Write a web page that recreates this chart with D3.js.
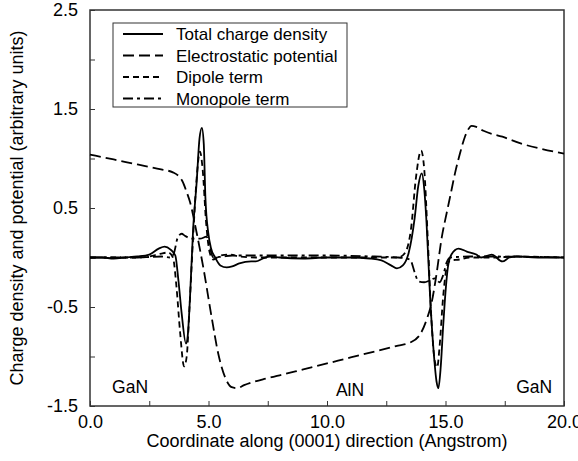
<html>
<head>
<script src="https://d3js.org/d3.v7.min.js"></script>
<style type="text/css">
body {
	margin: 0;
	background: #fff;
	font-family: "Liberation Sans", Arial, Helvetica, sans-serif;
}
.axis text {
	font: 18px "Liberation Sans", Arial, sans-serif;
	fill: #000;
}
</style>
<script>
// series names for the legend
var seriesNames = ['Total charge density', 'Electrostatic potential', 'Dipole term', 'Monopole term'];

// total charge density (solid)
var totalX = [0, 0.5, 1.0, 1.5, 2.0, 2.5, 2.9, 3.15, 3.4, 3.6, 3.73, 3.87, 4.05, 4.12, 4.22, 4.35, 4.5, 4.62, 4.72, 4.8, 4.87, 4.99, 5.1, 5.28, 5.5, 5.77, 6.0, 6.3, 6.8, 7.0, 7.3, 7.6, 8.0, 9.0, 10.0, 11.0, 11.8, 12.3, 12.7, 12.95, 13.2, 13.45, 13.7, 13.85, 14.0, 14.1, 14.2, 14.35, 14.5, 14.62, 14.7, 14.8, 14.9, 15.0, 15.1, 15.25, 15.55, 15.9, 16.3, 16.5, 16.95, 17.4, 17.7, 18.0, 19.0, 20.0];
var totalY = [0.00, 0.00, -0.01, 0.00, 0.01, 0.03, 0.09, 0.11, 0.08, 0.02, -0.23, -0.57, -0.87, -0.80, -0.40, 0.28, 0.76, 1.20, 1.31, 1.15, 0.60, 0.25, 0.10, 0.00, -0.08, -0.10, -0.09, -0.06, -0.04, -0.04, -0.01, 0.01, 0.00, -0.01, 0.00, 0.00, -0.01, -0.03, -0.08, -0.11, -0.08, 0.05, 0.40, 0.72, 0.85, 0.70, 0.35, -0.40, -0.95, -1.25, -1.32, -1.10, -0.70, -0.35, -0.10, 0.03, 0.09, 0.06, 0.03, 0.00, 0.03, -0.04, 0.00, 0.01, 0.00, 0.00];

// electrostatic potential (long dash)
var potX = [0, 1, 2, 3, 3.5, 3.75, 3.9, 4.08, 4.22, 4.5, 4.78, 5.13, 5.41, 5.7, 5.98, 6.2, 6.5, 7.3, 8, 9, 10, 11, 12, 13, 13.5, 13.92, 14.2, 14.42, 14.6, 14.84, 15.05, 15.2, 15.4, 15.61, 15.82, 15.95, 16.1, 16.3, 16.6, 17.4, 18.2, 19, 20];
var potY = [1.04, 0.99, 0.94, 0.89, 0.86, 0.82, 0.77, 0.66, 0.56, 0.25, -0.10, -0.60, -0.97, -1.21, -1.31, -1.32, -1.29, -1.23, -1.19, -1.13, -1.07, -1.01, -0.95, -0.89, -0.86, -0.78, -0.63, -0.45, -0.20, 0.20, 0.45, 0.62, 0.85, 1.05, 1.22, 1.29, 1.33, 1.32, 1.28, 1.22, 1.15, 1.10, 1.05];

// dipole term (short dash)
var dipX = [0, 1, 2, 2.5, 3.0, 3.3, 3.5, 3.65, 3.8, 3.97, 4.08, 4.2, 4.35, 4.5, 4.64, 4.75, 4.9, 5.05, 5.2, 5.5, 5.9, 6.3, 7, 8, 10, 12, 13.0, 13.3, 13.55, 13.75, 13.97, 14.1, 14.25, 14.4, 14.55, 14.65, 14.75, 14.9, 15.05, 15.2, 15.6, 16, 17, 18, 20];
var dipY = [0.00, 0.00, 0.00, 0.01, 0.04, 0.05, 0.00, -0.30, -0.75, -1.10, -1.00, -0.50, 0.20, 0.80, 1.07, 0.90, 0.35, 0.05, -0.02, 0.02, 0.03, 0.01, 0.00, 0.00, 0.00, 0.00, 0.00, 0.05, 0.30, 0.80, 1.08, 0.90, 0.20, -0.60, -1.05, -1.11, -0.90, -0.40, -0.10, -0.03, -0.02, 0.00, 0.00, 0.01, 0.00];

// monopole term (dash-dot)
var monoX = [0, 1, 2, 3.0, 3.4, 3.55, 3.7, 3.87, 4.0, 4.29, 4.64, 4.92, 5.06, 5.2, 5.6, 6, 7, 8, 10, 12, 13, 13.5, 13.7, 13.85, 14.1, 14.35, 14.55, 14.75, 14.9, 15.05, 15.2, 16, 17, 20];
var monoY = [0.00, 0.00, 0.00, 0.01, 0.00, 0.05, 0.20, 0.24, 0.22, 0.19, 0.19, 0.21, 0.10, 0.00, 0.01, 0.02, 0.02, 0.02, 0.02, 0.01, 0.00, -0.02, -0.15, -0.24, -0.25, -0.23, -0.21, -0.25, -0.18, -0.05, 0.00, 0.01, 0.01, 0.00];

// axis ticks
var xTicks = [0, 2.5, 5, 7.5, 10, 12.5, 15, 17.5, 20];
var xTickLabels = ['0.0', '', '5.0', '', '10.0', '', '15.0', '', '20.0'];
var yTicks = [-1.5, -1.0, -0.5, 0, 0.5, 1.0, 1.5, 2.0, 2.5];
var yTickLabels = ['-1.5', '', '-0.5', '', '0.5', '', '1.5', '', '2.5'];

// region labels
var regionNames = ['GaN', 'AlN', 'GaN'];
var regionX = [0.93, 10.97, 19.5];
var regionY = [-1.37, -1.40, -1.37];

document.addEventListener('DOMContentLoaded', function () {
	var width = 578;
	var height = 461;
	var margin = {top: 10, right: 14, bottom: 55, left: 90};
	var w = width - margin.left - margin.right;
	var h = height - margin.top - margin.bottom;

	var svg = d3.select('body').append('svg').attr('width', width).attr('height', height);
	var origin = svg.append('g').attr('transform', 'translate(' + margin.left + ',' + margin.top + ')');

	var x = d3.scaleLinear().domain([0, 20]).range([0, w]);
	var y = d3.scaleLinear().domain([-1.5, 2.5]).range([h, 0]);

	var frameColor = '#333';

	//inner ticks on both axes
	var xAxis = d3.axisBottom(x).tickValues(xTicks).tickSizeInner(-5).tickSizeOuter(0).tickPadding(9)
		.tickFormat(function(d, i) { return xTickLabels[i]; });
	var yAxis = d3.axisLeft(y).tickValues(yTicks).tickSizeInner(-5).tickSizeOuter(0).tickPadding(12)
		.tickFormat(function(d, i) { return yTickLabels[i]; });

	var gx = origin.append('g').attr('class', 'axis').attr('transform', 'translate(0,' + h + ')').call(xAxis);
	var gy = origin.append('g').attr('class', 'axis').call(yAxis);
	gx.selectAll('line').attr('stroke', frameColor);
	gy.selectAll('line').attr('stroke', frameColor);
	gx.select('.domain').remove();
	gy.select('.domain').remove();

	//plot frame
	origin.append('rect').attr('x', 0).attr('y', 0).attr('width', w).attr('height', h)
		.attr('fill', 'none').attr('stroke', frameColor).attr('stroke-width', 1.5);

	var line = d3.line()
		.x(function(d) { return x(d[0]); })
		.y(function(d) { return y(d[1]); })
		.curve(d3.curveMonotoneX);

	var series = [
		{xs: totalX, ys: totalY, dash: null},
		{xs: potX, ys: potY, dash: '11,5'},
		{xs: dipX, ys: dipY, dash: '6,4'},
		{xs: monoX, ys: monoY, dash: '10,4,3,4'}
	];

	series.forEach(function(s) {
		var pts = d3.zip(s.xs, s.ys);
		var p = origin.append('path').datum(pts).attr('fill', 'none').attr('stroke', '#000')
			.attr('stroke-width', 1.8).attr('stroke-linejoin', 'round').attr('d', line);
		if (s.dash) {
			p.style('stroke-dasharray', s.dash);
		}
	});

	//region labels
	origin.selectAll('text.region').data(regionNames).enter().append('text')
		.attr('class', 'region')
		.attr('x', function(d, i) { return x(regionX[i]); })
		.attr('y', function(d, i) { return y(regionY[i]); })
		.style('text-anchor', function(d, i) { return i == 0 ? 'start' : (i == 1 ? 'middle' : 'end'); })
		.style('font-size', '17.5px')
		.text(function(d) { return d; });

	//axis titles
	svg.append('text').attr('x', margin.left + w / 2).attr('y', 447).style('text-anchor', 'middle')
		.style('font-size', '18px').text('Coordinate along (0001) direction (Angstrom)');
	svg.append('text').attr('transform', 'translate(23,' + (margin.top + h / 2) + ') rotate(-90)')
		.style('text-anchor', 'middle').style('font-size', '18px')
		.text('Charge density and potential (arbitrary units)');

	//legend
	var legend = svg.append('g').attr('transform', 'translate(113,23)');
	legend.append('rect').attr('width', 234).attr('height', 84).attr('fill', '#fff')
		.attr('stroke', frameColor).attr('stroke-width', 1);
	seriesNames.forEach(function(name, i) {
		var ly = 11 + i * 21.5;
		var l = legend.append('line').attr('x1', 10).attr('x2', 50).attr('y1', ly).attr('y2', ly)
			.attr('stroke', '#000').attr('stroke-width', 1.8);
		if (series[i].dash) {
			l.style('stroke-dasharray', series[i].dash);
		}
		legend.append('text').attr('x', 63).attr('y', ly + 6).style('font-size', '17px').text(name);
	});
});
</script>
</head>
<body>
</body>
</html>
